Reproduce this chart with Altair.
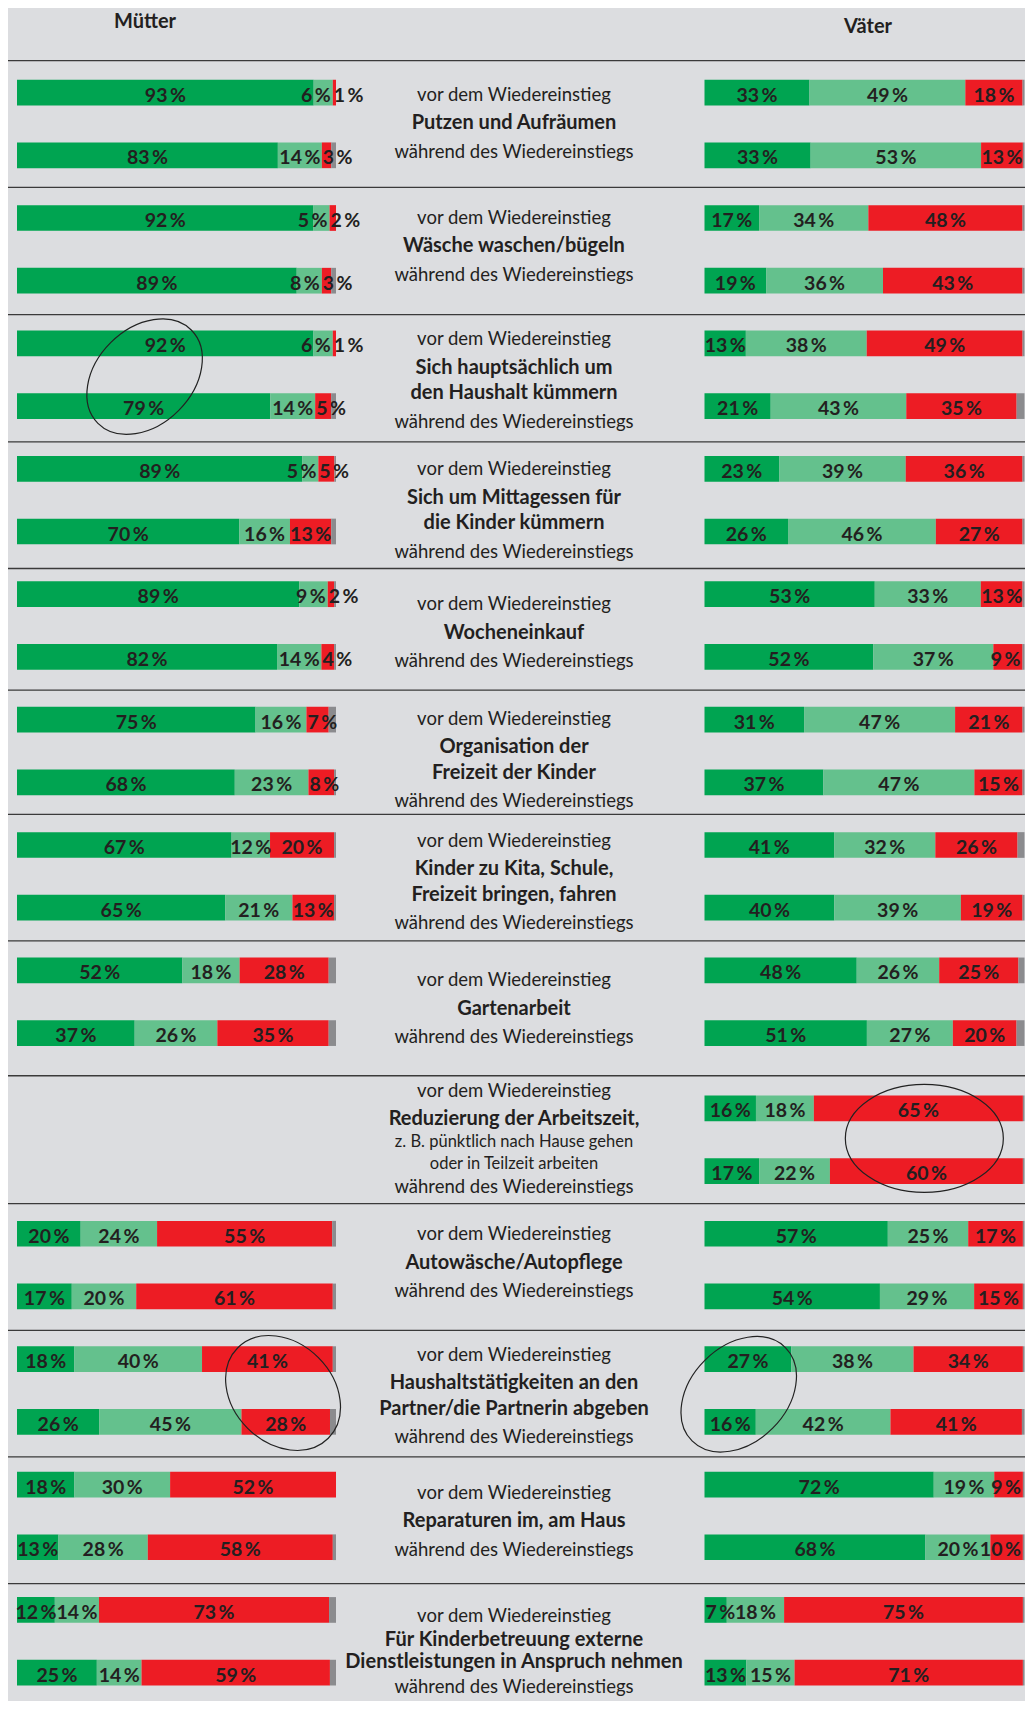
import altair as alt
import pandas as pd

# ------------------------------------------------------------------ data
group_titles = [
    ["Putzen und Aufräumen"],
    ["Wäsche waschen/bügeln"],
    ["Sich hauptsächlich um", "den Haushalt kümmern"],
    ["Sich um Mittagessen für", "die Kinder kümmern"],
    ["Wocheneinkauf"],
    ["Organisation der", "Freizeit der Kinder"],
    ["Kinder zu Kita, Schule,", "Freizeit bringen, fahren"],
    ["Gartenarbeit"],
    ["Reduzierung der Arbeitszeit,"],
    ["Autowäsche/Autopflege"],
    ["Haushaltstätigkeiten an den", "Partner/die Partnerin abgeben"],
    ["Reparaturen im, am Haus"],
    ["Für Kinderbetreuung externe", "Dienstleistungen in Anspruch nehmen"],
]
group_notes = {8: ["z. B. pünktlich nach Hause gehen", "oder in Teilzeit arbeiten"]}
period_before = "vor dem Wiedereinstieg"
period_during = "während des Wiedereinstiegs"

muetter_vor_ich = [93, 92, 92, 89, 89, 75, 67, 52, None, 20, 18, 18, 12]
muetter_vor_beide = [6, 5, 6, 5, 9, 16, 12, 18, None, 24, 40, 30, 14]
muetter_vor_partner = [1, 2, 1, 5, 2, 7, 20, 28, None, 55, 41, 52, 73]
muetter_vor_rest = [0, 0, 0, 0.5, 0.6, 2.3, 0.6, 2.3, None, 1.2, 1, 0, 2.2]
muetter_waehrend_ich = [83, 89, 79, 70, 82, 68, 65, 37, None, 17, 26, 13, 25]
muetter_waehrend_beide = [14, 8, 14, 16, 14, 23, 21, 26, None, 20, 45, 28, 14]
muetter_waehrend_partner = [3, 3, 5, 13, 4, 8, 13, 35, None, 61, 28, 58, 59]
muetter_waehrend_rest = [1.5, 1.5, 1.5, 1.5, 0.6, 0.6, 0.6, 2.3, None, 1, 1.9, 1, 1.9]

vaeter_vor_ich = [33, 17, 13, 23, 53, 31, 41, 48, 16, 57, 27, 72, 7]
vaeter_vor_beide = [49, 34, 38, 39, 33, 47, 32, 26, 18, 25, 38, 19, 18]
vaeter_vor_partner = [18, 48, 49, 36, 13, 21, 26, 25, 65, 17, 34, 9, 75]
vaeter_vor_rest = [0.6, 0.6, 0.6, 0.6, 0.6, 0.6, 2.2, 1.9, 0.5, 0.5, 0.5, 0.5, 0.5]
vaeter_waehrend_ich = [33, 19, 21, 26, 52, 37, 40, 51, 17, 54, 16, 68, 13]
vaeter_waehrend_beide = [53, 36, 43, 46, 37, 47, 39, 27, 22, 29, 42, 20, 15]
vaeter_waehrend_partner = [13, 43, 35, 27, 9, 15, 19, 20, 60, 15, 41, 10, 71]
vaeter_waehrend_rest = [0.5, 0.6, 2.5, 0.6, 0.6, 0.6, 0.6, 2.5, 0.5, 0.5, 0.8, 0.5, 0.5]

# ------------------------------------------------------------------ layout / style
W, H = 1017, 1693
PITCH = 62.7            # px per row slot
ROW0 = 84.6             # px of first row centre (chart coords)
BAR_HALF = 0.205        # half bar thickness in slots
FONT = "Lato"
TXT = "#231f20"
BG = "#dcdde0"
SEG = ["ich", "beide", "partner", "rest"]
SEG_COL = ["#00a451", "#64c18d", "#ed1c24", "#8b8b8e"]

def slot(g, p):
    return 2 * g + p + (0.2 if g >= 8 else 0.0)

y_scale = alt.Scale(domain=[-ROW0 / PITCH, (H - ROW0) / PITCH], reverse=True, nice=False, zero=False)

series = {
    ("Mütter", 0): [muetter_vor_ich, muetter_vor_beide, muetter_vor_partner, muetter_vor_rest],
    ("Mütter", 1): [muetter_waehrend_ich, muetter_waehrend_beide, muetter_waehrend_partner, muetter_waehrend_rest],
    ("Väter", 0): [vaeter_vor_ich, vaeter_vor_beide, vaeter_vor_partner, vaeter_vor_rest],
    ("Väter", 1): [vaeter_waehrend_ich, vaeter_waehrend_beide, vaeter_waehrend_partner, vaeter_waehrend_rest],
}

recs = []
for (panel, p), arrs in series.items():
    for g in range(len(group_titles)):
        if arrs[0][g] is None:
            continue
        for k, name in enumerate(SEG):
            v = arrs[k][g]
            if k == 3:
                lab, anchor = "", "none"
            else:
                lab = f"{v}\u2009%"
                if panel == "Väter" and k == 2 and v <= 10:
                    anchor = "right"       # keep it inside the page edge
                elif v >= 10:
                    anchor = "center"
                elif k == 1:
                    anchor = "right"
                else:
                    anchor = "left"
            recs.append(dict(panel=panel, rid=f"{panel}-{g}-{p}", slot=slot(g, p), seg=name,
                             order=k, value=v, label=lab, anchor=anchor))
bars = pd.DataFrame(recs)

ellipses = pd.DataFrame([
    dict(panel="Mütter", xf=0.40, slot=4.53, a=66, b=48, angle=315),
    dict(panel="Väter", xf=0.687, slot=16.68, a=79, b=54, angle=0),
    dict(panel="Mütter", xf=0.834, slot=20.74, a=64, b=50, angle=45),
    dict(panel="Väter", xf=0.107, slot=20.76, a=66, b=48, angle=315),
])

def ellipse_path(r):
    k = 0.5523
    return (f"M1,0 C1,{k*r:.4f} {k},{r:.4f} 0,{r:.4f} C{-k},{r:.4f} -1,{k*r:.4f} -1,0 "
            f"C-1,{-k*r:.4f} {-k},{-r:.4f} 0,{-r:.4f} C{k},{-r:.4f} 1,{-k*r:.4f} 1,0 Z")

ellipses["path"] = [ellipse_path(b / a) for a, b in zip(ellipses.a, ellipses.b)]
ellipses["size"] = [4 * a * a for a in ellipses.a]


def panel_chart(name, x_range):
    xs = alt.Scale(domain=[0, 1], range=x_range, nice=False, zero=False)
    base = (alt.Chart(bars)
            .transform_filter(alt.datum.panel == name)
            .transform_stack(stack="value", groupby=["rid"], sort=[alt.SortField("order", order="ascending")],
                             offset="normalize", as_=["x0", "x1"])
            .transform_calculate(y0=f"datum.slot - {BAR_HALF}", y1=f"datum.slot + {BAR_HALF}",
                                 mid="(datum.x0 + datum.x1) / 2"))
    rects = base.mark_rect().encode(
        x=alt.X("x0:Q", scale=xs, axis=None), x2="x1:Q",
        y=alt.Y("y0:Q", scale=y_scale, axis=None), y2="y1:Q",
        color=alt.Color("seg:N", scale=alt.Scale(domain=SEG, range=SEG_COL), legend=None),
    )
    tstyle = dict(baseline="middle", dy=3, font=FONT, fontSize=19.5, fontWeight="bold", color=TXT)
    yenc = alt.Y("slot:Q", scale=y_scale, axis=None)
    t_c = base.transform_filter(alt.datum.anchor == "center").mark_text(align="center", **tstyle).encode(
        x=alt.X("mid:Q", scale=xs, axis=None), y=yenc, text="label:N")
    t_l = base.transform_filter(alt.datum.anchor == "left").mark_text(align="left", dx=1, **tstyle).encode(
        x=alt.X("x0:Q", scale=xs, axis=None), y=yenc, text="label:N")
    t_r = base.transform_filter(alt.datum.anchor == "right").mark_text(align="right", dx=-2, **tstyle).encode(
        x=alt.X("x1:Q", scale=xs, axis=None), y=yenc, text="label:N")
    ell = alt.Chart(ellipses).transform_filter(alt.datum.panel == name).mark_point(
        filled=False, color="#222222", strokeWidth=1.2, opacity=1).encode(
        x=alt.X("xf:Q", scale=xs, axis=None), y=yenc,
        shape=alt.Shape("path:N", scale=None, legend=None),
        size=alt.Size("size:Q", scale=None, legend=None),
        angle=alt.Angle("angle:Q", scale=None, legend=None),
    )
    return alt.layer(rects, t_c, t_l, t_r, ell)


# middle text column
SPACING = {("reg", "bold"): 28.5, ("bold", "bold"): 25.5, ("bold", "reg"): 28.5,
           ("bold", "small"): 23.0, ("small", "small"): 22.0, ("small", "reg"): 23.0}
shift_px = [-2.7, -4.9, 3.8, 8.4, 5.4, 7.1, 3.8, 4.9, -1.1, -4.1, 3.3, 3.5, 8.0]
squeeze = {12: 0.86}
mid_recs = []
for g, title in enumerate(group_titles):
    lines = [(period_before, "reg")] + [(t, "bold") for t in title] + \
            [(t, "small") for t in group_notes.get(g, [])] + [(period_during, "reg")]
    offs = [0.0]
    for (_, s1), (_, s2) in zip(lines[:-1], lines[1:]):
        offs.append(offs[-1] + SPACING[(s1, s2)] * squeeze.get(g, 1.0))
    m = sum(offs) / len(offs)
    c = (slot(g, 0) + slot(g, 1)) / 2
    for (t, s), o in zip(lines, offs):
        mid_recs.append(dict(text=t, style=s, slot=c + (o - m + shift_px[g]) / PITCH))
middle = pd.DataFrame(mid_recs)

MID_X = 506
mid_layers = []
for s, size, weight in [("reg", 18.5, "normal"), ("bold", 20, "bold"), ("small", 16.5, "normal")]:
    mid_layers.append(
        alt.Chart(middle).transform_filter(alt.datum.style == s).mark_text(
            align="center", baseline="middle", dy=2, font=FONT, fontSize=size, fontWeight=weight, color=TXT
        ).encode(x=alt.value(MID_X), y=alt.Y("slot:Q", scale=y_scale, axis=None), text="text:N")
    )

sep_slots = [-0.51, 1.51, 3.54, 5.57, 7.59, 9.53, 11.51, 13.53, 15.68, 17.72, 19.74, 21.76, 23.78]
seps = alt.Chart(pd.DataFrame({"slot": sep_slots})).mark_rule(color="#3a3a3a", strokeWidth=1.3).encode(
    y=alt.Y("slot:Q", scale=y_scale, axis=None), x=alt.value(0), x2=alt.value(W))

head_m = alt.Chart(pd.DataFrame({"t": ["Mütter"]})).mark_text(
    font=FONT, fontSize=20, fontWeight="bold", color=TXT, baseline="middle", align="center", dy=1
).encode(x=alt.value(137), y=alt.value(13), text="t:N")
head_v = alt.Chart(pd.DataFrame({"t": ["Väter"]})).mark_text(
    font=FONT, fontSize=20, fontWeight="bold", color=TXT, baseline="middle", align="center", dy=1
).encode(x=alt.value(860), y=alt.value(18), text="t:N")

chart = alt.layer(
    seps,
    panel_chart("Mütter", [9, 328]),
    panel_chart("Väter", [696.5, 1016.5]),
    *mid_layers,
    head_m, head_v,
).resolve_scale(x="independent").properties(
    width=W, height=H, background=BG, padding=0,
    autosize=alt.AutoSizeParams(type="none"),
).configure_view(stroke=None)

chart.save("out.html", embed_options={"renderer": "svg", "actions": False})
